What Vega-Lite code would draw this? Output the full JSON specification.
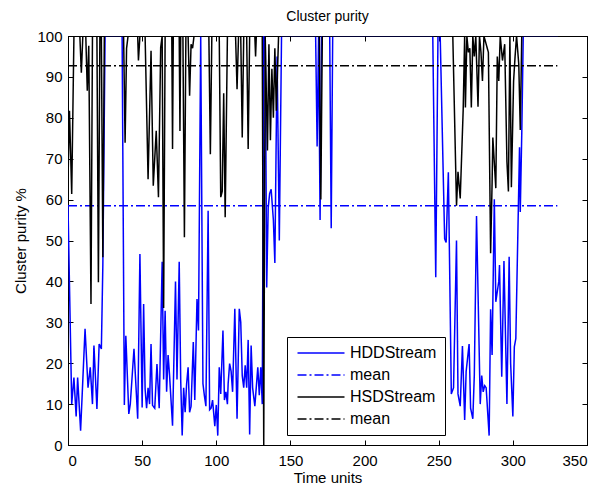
{
  "$schema": "https://vega.github.io/schema/vega-lite/v6.json",
  "autosize": {"type": "none"},
  "width": 519,
  "height": 409,
  "padding": {"left": 68, "top": 36, "right": 24, "bottom": 44},
  "background": "white",
  "title": {"text": "Cluster purity", "font": "Liberation Sans", "fontSize": 14, "fontWeight": "normal", "color": "black", "offset": 5},
  "config": {
    "view": {"stroke": "black", "strokeWidth": 1},
    "axis": {"labelFont": "Liberation Sans", "titleFont": "Liberation Sans", "labelFontSize": 15, "titleFontSize": 15, "titleFontWeight": "normal", "labelColor": "black", "titleColor": "black", "domainColor": "black", "tickColor": "black", "grid": false, "tickSize": -5}
  },
  "data": {"values": [
    {"t":0,"v":58.5,"s":"HDDStream"},{"t":2.5,"v":10,"s":"HDDStream"},{"t":4,"v":16.5,"s":"HDDStream"},{"t":5.5,"v":7,"s":"HDDStream"},{"t":6.5,"v":16.5,"s":"HDDStream"},{"t":8.5,"v":3.5,"s":"HDDStream"},{"t":11.5,"v":28.4,"s":"HDDStream"},{"t":13.5,"v":14,"s":"HDDStream"},{"t":15,"v":19,"s":"HDDStream"},{"t":16.5,"v":10,"s":"HDDStream"},{"t":17.5,"v":24.3,"s":"HDDStream"},{"t":19.5,"v":8.8,"s":"HDDStream"},{"t":21,"v":24.7,"s":"HDDStream"},{"t":22.5,"v":23.5,"s":"HDDStream"},{"t":23.5,"v":44,"s":"HDDStream"},{"t":25,"v":100,"s":"HDDStream"},{"t":36.5,"v":100,"s":"HDDStream"},{"t":38,"v":9.8,"s":"HDDStream"},{"t":39,"v":26.7,"s":"HDDStream"},{"t":41,"v":7.6,"s":"HDDStream"},{"t":42,"v":10,"s":"HDDStream"},{"t":44.5,"v":23.5,"s":"HDDStream"},{"t":47,"v":6.4,"s":"HDDStream"},{"t":48.5,"v":46.7,"s":"HDDStream"},{"t":50,"v":9.2,"s":"HDDStream"},{"t":51,"v":34.5,"s":"HDDStream"},{"t":52,"v":13.7,"s":"HDDStream"},{"t":53,"v":9,"s":"HDDStream"},{"t":54,"v":14,"s":"HDDStream"},{"t":55,"v":10,"s":"HDDStream"},{"t":56,"v":24.7,"s":"HDDStream"},{"t":57,"v":9.7,"s":"HDDStream"},{"t":58.5,"v":9,"s":"HDDStream"},{"t":60,"v":19.8,"s":"HDDStream"},{"t":61.5,"v":9,"s":"HDDStream"},{"t":63.5,"v":44.8,"s":"HDDStream"},{"t":64.5,"v":16,"s":"HDDStream"},{"t":65.5,"v":32.8,"s":"HDDStream"},{"t":66.5,"v":13,"s":"HDDStream"},{"t":67.5,"v":22,"s":"HDDStream"},{"t":68.5,"v":17,"s":"HDDStream"},{"t":70.5,"v":4.7,"s":"HDDStream"},{"t":72.5,"v":40,"s":"HDDStream"},{"t":73.5,"v":16,"s":"HDDStream"},{"t":75,"v":44.8,"s":"HDDStream"},{"t":76,"v":16,"s":"HDDStream"},{"t":77,"v":2.3,"s":"HDDStream"},{"t":78,"v":14,"s":"HDDStream"},{"t":79,"v":8,"s":"HDDStream"},{"t":80,"v":15,"s":"HDDStream"},{"t":81,"v":19,"s":"HDDStream"},{"t":82,"v":8,"s":"HDDStream"},{"t":83,"v":9.5,"s":"HDDStream"},{"t":84.5,"v":25.2,"s":"HDDStream"},{"t":85.5,"v":11,"s":"HDDStream"},{"t":87,"v":35.7,"s":"HDDStream"},{"t":88,"v":28,"s":"HDDStream"},{"t":89.5,"v":100,"s":"HDDStream"},{"t":91,"v":15,"s":"HDDStream"},{"t":92,"v":12,"s":"HDDStream"},{"t":93,"v":9.5,"s":"HDDStream"},{"t":94.5,"v":57.3,"s":"HDDStream"},{"t":95.5,"v":8.6,"s":"HDDStream"},{"t":96.5,"v":9,"s":"HDDStream"},{"t":97.5,"v":11,"s":"HDDStream"},{"t":99,"v":4.6,"s":"HDDStream"},{"t":100,"v":9.8,"s":"HDDStream"},{"t":101,"v":2.3,"s":"HDDStream"},{"t":102,"v":19,"s":"HDDStream"},{"t":103,"v":12.5,"s":"HDDStream"},{"t":104.5,"v":28,"s":"HDDStream"},{"t":105.5,"v":11,"s":"HDDStream"},{"t":106.5,"v":13,"s":"HDDStream"},{"t":107.5,"v":10,"s":"HDDStream"},{"t":108,"v":15,"s":"HDDStream"},{"t":109,"v":19.9,"s":"HDDStream"},{"t":110,"v":18,"s":"HDDStream"},{"t":111,"v":13,"s":"HDDStream"},{"t":112.5,"v":33.3,"s":"HDDStream"},{"t":114,"v":6.4,"s":"HDDStream"},{"t":115.5,"v":33.3,"s":"HDDStream"},{"t":116.5,"v":30,"s":"HDDStream"},{"t":117.5,"v":17,"s":"HDDStream"},{"t":118.5,"v":14,"s":"HDDStream"},{"t":119.5,"v":19.5,"s":"HDDStream"},{"t":120.5,"v":14,"s":"HDDStream"},{"t":121.5,"v":25.7,"s":"HDDStream"},{"t":122.5,"v":2.6,"s":"HDDStream"},{"t":123.5,"v":24.3,"s":"HDDStream"},{"t":124.5,"v":14,"s":"HDDStream"},{"t":126,"v":9.5,"s":"HDDStream"},{"t":128,"v":19,"s":"HDDStream"},{"t":129,"v":12.2,"s":"HDDStream"},{"t":130,"v":19,"s":"HDDStream"},{"t":131,"v":10,"s":"HDDStream"},{"t":132,"v":100,"s":"HDDStream"},{"t":133,"v":100,"s":"HDDStream"},{"t":134,"v":38.5,"s":"HDDStream"},{"t":135,"v":58,"s":"HDDStream"},{"t":136,"v":61.5,"s":"HDDStream"},{"t":137,"v":62.5,"s":"HDDStream"},{"t":138.5,"v":55,"s":"HDDStream"},{"t":139.5,"v":44.5,"s":"HDDStream"},{"t":141,"v":95,"s":"HDDStream"},{"t":142.5,"v":50,"s":"HDDStream"},{"t":144,"v":100,"s":"HDDStream"},{"t":167,"v":100,"s":"HDDStream"},{"t":168,"v":73,"s":"HDDStream"},{"t":169,"v":100,"s":"HDDStream"},{"t":170,"v":55,"s":"HDDStream"},{"t":171,"v":100,"s":"HDDStream"},{"t":176.5,"v":100,"s":"HDDStream"},{"t":177.5,"v":53,"s":"HDDStream"},{"t":178.5,"v":100,"s":"HDDStream"},{"t":246,"v":100,"s":"HDDStream"},{"t":248,"v":41,"s":"HDDStream"},{"t":249.5,"v":100,"s":"HDDStream"},{"t":251,"v":100,"s":"HDDStream"},{"t":254,"v":50.4,"s":"HDDStream"},{"t":255,"v":49.5,"s":"HDDStream"},{"t":256.5,"v":66.7,"s":"HDDStream"},{"t":258.5,"v":12.5,"s":"HDDStream"},{"t":260,"v":14,"s":"HDDStream"},{"t":262,"v":50,"s":"HDDStream"},{"t":263,"v":12.5,"s":"HDDStream"},{"t":264.5,"v":9.5,"s":"HDDStream"},{"t":266,"v":24.2,"s":"HDDStream"},{"t":267.5,"v":6.1,"s":"HDDStream"},{"t":268.5,"v":18,"s":"HDDStream"},{"t":270.5,"v":24.7,"s":"HDDStream"},{"t":271.5,"v":9,"s":"HDDStream"},{"t":273,"v":6.4,"s":"HDDStream"},{"t":274,"v":17,"s":"HDDStream"},{"t":275.5,"v":56,"s":"HDDStream"},{"t":278,"v":10,"s":"HDDStream"},{"t":279,"v":17,"s":"HDDStream"},{"t":280,"v":13,"s":"HDDStream"},{"t":281,"v":14.5,"s":"HDDStream"},{"t":282,"v":14,"s":"HDDStream"},{"t":284,"v":2.3,"s":"HDDStream"},{"t":285,"v":33.2,"s":"HDDStream"},{"t":286,"v":22,"s":"HDDStream"},{"t":287.5,"v":60.1,"s":"HDDStream"},{"t":288.5,"v":35,"s":"HDDStream"},{"t":290.5,"v":40,"s":"HDDStream"},{"t":291,"v":44,"s":"HDDStream"},{"t":292.5,"v":16.7,"s":"HDDStream"},{"t":294,"v":45,"s":"HDDStream"},{"t":296,"v":10,"s":"HDDStream"},{"t":297.5,"v":46,"s":"HDDStream"},{"t":298.5,"v":20,"s":"HDDStream"},{"t":300,"v":7,"s":"HDDStream"},{"t":301,"v":24,"s":"HDDStream"},{"t":302,"v":26,"s":"HDDStream"},{"t":304.5,"v":72.8,"s":"HDDStream"},{"t":305,"v":57,"s":"HDDStream"},{"t":306,"v":76,"s":"HDDStream"},{"t":307,"v":100,"s":"HDDStream"},{"t":330,"v":100,"s":"HDDStream"},
    {"t":0,"v":58.5,"s":"mean1"},{"t":330,"v":58.5,"s":"mean1"},
    {"t":0,"v":64.6,"s":"HSDStream"},{"t":1,"v":81.7,"s":"HSDStream"},{"t":2.5,"v":61.4,"s":"HSDStream"},{"t":4,"v":100,"s":"HSDStream"},{"t":8,"v":100,"s":"HSDStream"},{"t":9,"v":91,"s":"HSDStream"},{"t":10,"v":100,"s":"HSDStream"},{"t":12,"v":100,"s":"HSDStream"},{"t":13,"v":86.6,"s":"HSDStream"},{"t":14,"v":97.6,"s":"HSDStream"},{"t":15.5,"v":34.5,"s":"HSDStream"},{"t":16.5,"v":100,"s":"HSDStream"},{"t":19.5,"v":100,"s":"HSDStream"},{"t":20.5,"v":39.8,"s":"HSDStream"},{"t":21.5,"v":100,"s":"HSDStream"},{"t":22.5,"v":100,"s":"HSDStream"},{"t":23.5,"v":45.9,"s":"HSDStream"},{"t":24.5,"v":100,"s":"HSDStream"},{"t":37.5,"v":100,"s":"HSDStream"},{"t":38.5,"v":73.9,"s":"HSDStream"},{"t":39.5,"v":97,"s":"HSDStream"},{"t":40.5,"v":100,"s":"HSDStream"},{"t":47,"v":100,"s":"HSDStream"},{"t":47.5,"v":94,"s":"HSDStream"},{"t":48.5,"v":100,"s":"HSDStream"},{"t":52,"v":100,"s":"HSDStream"},{"t":54,"v":65,"s":"HSDStream"},{"t":56,"v":96.4,"s":"HSDStream"},{"t":57.5,"v":63.4,"s":"HSDStream"},{"t":59.5,"v":76.8,"s":"HSDStream"},{"t":61,"v":60.6,"s":"HSDStream"},{"t":62.5,"v":97.2,"s":"HSDStream"},{"t":63.5,"v":100,"s":"HSDStream"},{"t":64.5,"v":33.5,"s":"HSDStream"},{"t":65.5,"v":100,"s":"HSDStream"},{"t":70,"v":100,"s":"HSDStream"},{"t":70.5,"v":72.4,"s":"HSDStream"},{"t":71,"v":100,"s":"HSDStream"},{"t":75,"v":100,"s":"HSDStream"},{"t":75.5,"v":76.8,"s":"HSDStream"},{"t":76,"v":100,"s":"HSDStream"},{"t":77.5,"v":100,"s":"HSDStream"},{"t":78.5,"v":50.8,"s":"HSDStream"},{"t":79.5,"v":100,"s":"HSDStream"},{"t":81,"v":100,"s":"HSDStream"},{"t":82,"v":85.4,"s":"HSDStream"},{"t":83,"v":98,"s":"HSDStream"},{"t":84,"v":97,"s":"HSDStream"},{"t":85,"v":100,"s":"HSDStream"},{"t":95,"v":100,"s":"HSDStream"},{"t":96,"v":71.1,"s":"HSDStream"},{"t":97,"v":100,"s":"HSDStream"},{"t":102,"v":100,"s":"HSDStream"},{"t":103,"v":60.6,"s":"HSDStream"},{"t":104,"v":62,"s":"HSDStream"},{"t":105,"v":86,"s":"HSDStream"},{"t":106,"v":55.7,"s":"HSDStream"},{"t":107.5,"v":100,"s":"HSDStream"},{"t":113,"v":100,"s":"HSDStream"},{"t":114,"v":87,"s":"HSDStream"},{"t":115,"v":100,"s":"HSDStream"},{"t":116.5,"v":100,"s":"HSDStream"},{"t":117.5,"v":75.2,"s":"HSDStream"},{"t":118.5,"v":100,"s":"HSDStream"},{"t":120.5,"v":100,"s":"HSDStream"},{"t":121.5,"v":72.4,"s":"HSDStream"},{"t":122.5,"v":100,"s":"HSDStream"},{"t":126,"v":100,"s":"HSDStream"},{"t":126.5,"v":95,"s":"HSDStream"},{"t":127,"v":100,"s":"HSDStream"},{"t":131,"v":100,"s":"HSDStream"},{"t":132,"v":0,"s":"HSDStream"},{"t":133,"v":100,"s":"HSDStream"},{"t":134.5,"v":72,"s":"HSDStream"},{"t":135.5,"v":98,"s":"HSDStream"},{"t":136.5,"v":74.5,"s":"HSDStream"},{"t":137.5,"v":92,"s":"HSDStream"},{"t":138.5,"v":80,"s":"HSDStream"},{"t":139.5,"v":97,"s":"HSDStream"},{"t":140.5,"v":81.7,"s":"HSDStream"},{"t":142,"v":100,"s":"HSDStream"},{"t":169.5,"v":100,"s":"HSDStream"},{"t":170.5,"v":60,"s":"HSDStream"},{"t":171.5,"v":100,"s":"HSDStream"},{"t":259.5,"v":100,"s":"HSDStream"},{"t":262,"v":58.5,"s":"HSDStream"},{"t":263,"v":66.8,"s":"HSDStream"},{"t":264.5,"v":60.3,"s":"HSDStream"},{"t":266.5,"v":81.9,"s":"HSDStream"},{"t":267.5,"v":100,"s":"HSDStream"},{"t":268,"v":82.5,"s":"HSDStream"},{"t":269,"v":100,"s":"HSDStream"},{"t":270,"v":96,"s":"HSDStream"},{"t":271,"v":97,"s":"HSDStream"},{"t":272,"v":82.5,"s":"HSDStream"},{"t":273,"v":100,"s":"HSDStream"},{"t":274,"v":95,"s":"HSDStream"},{"t":275,"v":100,"s":"HSDStream"},{"t":276.5,"v":82.7,"s":"HSDStream"},{"t":277.5,"v":100,"s":"HSDStream"},{"t":278.5,"v":96,"s":"HSDStream"},{"t":279.5,"v":89,"s":"HSDStream"},{"t":280.5,"v":100,"s":"HSDStream"},{"t":283.5,"v":96,"s":"HSDStream"},{"t":285,"v":46.9,"s":"HSDStream"},{"t":286,"v":64,"s":"HSDStream"},{"t":286.5,"v":75.2,"s":"HSDStream"},{"t":288.5,"v":62.8,"s":"HSDStream"},{"t":289.5,"v":95,"s":"HSDStream"},{"t":290.5,"v":89,"s":"HSDStream"},{"t":291.5,"v":100,"s":"HSDStream"},{"t":293,"v":94,"s":"HSDStream"},{"t":294.5,"v":98,"s":"HSDStream"},{"t":296,"v":69.3,"s":"HSDStream"},{"t":297,"v":62,"s":"HSDStream"},{"t":298,"v":100,"s":"HSDStream"},{"t":299,"v":63,"s":"HSDStream"},{"t":300.5,"v":89,"s":"HSDStream"},{"t":301.5,"v":95,"s":"HSDStream"},{"t":302.5,"v":100,"s":"HSDStream"},{"t":304,"v":93,"s":"HSDStream"},{"t":305,"v":77,"s":"HSDStream"},{"t":306,"v":100,"s":"HSDStream"},{"t":330,"v":100,"s":"HSDStream"},
    {"t":0,"v":92.7,"s":"mean2"},{"t":330,"v":92.7,"s":"mean2"}
  ]},
  "layer": [
    {
      "mark": {"type": "line", "strokeWidth": 1.5, "clip": true},
      "encoding": {
        "x": {"field": "t", "type": "quantitative", "scale": {"domain": [0, 350], "nice": false, "zero": false}, "axis": {"orient": "bottom", "values": [0,50,100,150,200,250,300,350], "title": "Time units", "labelPadding": 13, "titlePadding": 2}},
        "y": {"field": "v", "type": "quantitative", "scale": {"domain": [0, 100], "nice": false}, "axis": {"orient": "left", "values": [0,10,20,30,40,50,60,70,80,90,100], "title": "Cluster purity %", "labelPadding": 11, "titlePadding": 8}},
        "color": {"field": "s", "type": "nominal", "scale": {"domain": ["HDDStream","mean1","HSDStream","mean2"], "range": ["#0000ff","#0000ff","#000000","#000000"]},
          "legend": {"orient": "none", "legendX": 219, "legendY": 301, "title": null, "strokeColor": "black", "fillColor": "white", "padding": 8, "symbolType": "M-4,0H4", "symbolSize": 138, "symbolStrokeWidth": 1.5, "symbolOffset": 18, "labelFont": "Liberation Sans", "labelFontSize": 16, "labelColor": "black", "rowPadding": 6, "labelOffset": 21, "labelExpr": "datum.label == 'mean1' || datum.label == 'mean2' ? 'mean' : datum.label"}},
        "strokeDash": {"field": "s", "type": "nominal", "scale": {"domain": ["HDDStream","mean1","HSDStream","mean2"], "range": [[1,0],[9,3,2,3],[1,0],[9,3,2,3]]}, "legend": null}
      }
    },
    {
      "mark": {"type": "line", "opacity": 0},
      "encoding": {
        "x": {"field": "t", "type": "quantitative", "axis": {"orient": "top", "values": [0,50,100,150,200,250,300,350], "labels": false, "title": null}},
        "y": {"field": "v", "type": "quantitative", "axis": {"orient": "right", "values": [0,10,20,30,40,50,60,70,80,90,100], "labels": false, "title": null}},
        "detail": {"field": "s"}
      }
    }
  ],
  "resolve": {"axis": {"x": "independent", "y": "independent"}}
}
